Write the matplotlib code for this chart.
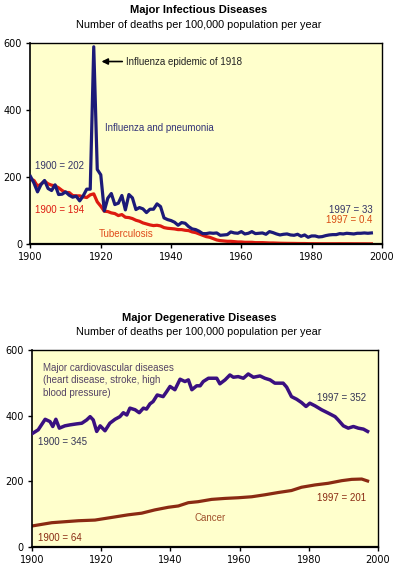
import matplotlib
matplotlib.use("Agg")
import matplotlib.pyplot as plt

plt.rcParams['font.family'] = ['Liberation Sans', 'DejaVu Sans']

# ---------------- data: infectious diseases ----------------
flu_years = list(range(1900, 1998))
flu_vals = [202, 182, 156, 178, 190, 166, 160, 177, 148, 149,
            156, 146, 140, 143, 129, 144, 164, 164, 590, 223,
            207, 99, 137, 151, 118, 122, 145, 102, 148, 138,
            103, 109, 105, 94, 104, 104, 120, 112, 78, 73,
            70, 65, 56, 64, 62, 52, 45, 43, 38, 31,
            31, 33, 32, 33, 26, 27, 28, 36, 33, 32,
            37, 30, 32, 37, 31, 32, 33, 29, 37, 34,
            30, 27, 29, 30, 27, 26, 29, 23, 27, 20,
            24, 24, 21, 22, 25, 27, 28, 28, 31, 30,
            32, 31, 30, 32, 32, 33, 32, 33]

tb_years = list(range(1900, 1998))
tb_vals = [194, 190, 173, 179, 188, 180, 176, 174, 168, 160,
           154, 154, 145, 144, 144, 141, 139, 147, 150, 126,
           113, 98, 97, 93, 91, 85, 88, 80, 79, 76,
           71, 68, 63, 60, 57, 55, 56, 54, 49, 47,
           46, 45, 43, 43, 41, 40, 36, 34, 30, 26,
           22, 20, 16, 12, 10, 9, 8, 8, 7, 6,
           6, 5, 5, 5, 4, 4, 4, 3.5, 3, 3,
           2.6, 2.2, 2, 1.8, 1.7, 1.6, 1.4, 1.3, 1.3, 1.0,
           0.9, 0.8, 0.8, 0.7, 0.7, 0.7, 0.7, 0.7, 0.8, 0.7,
           0.7, 0.7, 0.6, 0.6, 0.5, 0.5, 0.4, 0.4]

# ---------------- data: degenerative diseases ----------------
cvd_years = [1900, 1901.8, 1903.8, 1905.2, 1906, 1906.9, 1907.9, 1909.5, 1911, 1912.9,
             1914.4, 1915.8, 1916.8, 1917.7, 1918.7, 1919.7, 1921.1, 1922.5, 1924, 1925.4,
             1926.4, 1927.4, 1928.3, 1929.8, 1931, 1932.2, 1933.1, 1934.1, 1935, 1936.2,
             1937.9, 1938.9, 1939.9, 1941.3, 1942.8, 1944.2, 1945.2, 1946.2, 1947.6, 1948.6,
             1949.5, 1951, 1953.4, 1954.3, 1955.8, 1957.2, 1958.2, 1959.6, 1961.1, 1962.5,
             1964, 1965.9, 1967.3, 1968.8, 1970.2, 1971.7, 1972.6, 1973.6, 1975, 1976.5,
             1977.9, 1979.2, 1980.3, 1981.8, 1983.7, 1985.6, 1987.6, 1988.5, 1990, 1991.4,
             1992.9, 1994.3, 1995.8, 1997]
cvd_vals = [345, 357, 389, 382, 367, 389, 362, 369, 372, 375,
            377, 387, 397, 387, 352, 369, 354, 377, 389, 397,
            409, 402, 423, 418, 409, 423, 420, 436, 443, 463,
            458, 473, 489, 479, 511, 504, 509, 479, 491, 491,
            504, 514, 514, 497, 509, 524, 517, 519, 514, 527,
            517, 521, 514, 509, 499, 499, 499, 487, 458, 450,
            440, 428, 438, 430, 418, 408, 397, 387, 369, 362,
            367, 362, 359, 352]

cancer_years = [1900, 1905.7, 1909.5, 1913.4, 1918.2, 1923, 1927.8, 1931.7, 1935.5, 1939.4,
                1942.3, 1945.2, 1948, 1951.9, 1955.8, 1959.6, 1963.5, 1967.3, 1971.2, 1975,
                1977.9, 1981.8, 1985.6, 1989.5, 1992.4, 1995.3, 1997]
cancer_vals = [64, 74, 77, 80, 82, 90, 98, 103, 113, 121,
               125, 135, 138, 145, 148, 150, 153, 159, 166, 172,
               182, 189, 194, 202, 206, 207, 201]

x_ticks = [1900, 1920, 1940, 1960, 1980, 2000]
y_ticks = [0, 200, 400, 600]

BG = '#FFFFCC'
FLU_C = '#1C1A78'
TB_C = '#DD1A10'
CVD_C = '#3A1080'
CAN_C = '#8A2A12'

fig = plt.figure(figsize=(3.98, 5.75), dpi=100)


def style_axes(ax):
    ax.set_facecolor(BG)
    ax.set_xlim(1900, 2000)
    ax.set_ylim(0, 600)
    ax.set_xticks(x_ticks)
    ax.set_yticks(y_ticks)
    ax.tick_params(axis='both', labelsize=7, length=3, width=1, direction='out',
                   colors='black', pad=3)
    for lab in ax.get_xticklabels() + ax.get_yticklabels():
        lab.set_family('DejaVu Sans')
    for s in ax.spines.values():
        s.set_linewidth(1.0)
    ax.spines['bottom'].set_linewidth(1.6)
    ax.spines['left'].set_linewidth(1.2)


# ---------------- top chart ----------------
ax1 = fig.add_axes([0.0766, 0.5757, 0.883, 0.3487])
style_axes(ax1)
ax1.plot(tb_years, tb_vals, color=TB_C, lw=2.3, zorder=2)
ax1.plot(flu_years, flu_vals, color=FLU_C, lw=2.3, zorder=3)

fig.text(0.5, 0.982, 'Major Infectious Diseases', ha='center', va='center',
         fontsize=8, fontweight='bold')
fig.text(0.5, 0.957, 'Number of deaths per 100,000 population per year', ha='center',
         va='center', fontsize=7.8)

ax1.annotate('Influenza epidemic of 1918', xy=(1920.2, 546), xytext=(1927.3, 546),
             fontsize=7, va='center', ha='left', color='#222222',
             arrowprops=dict(arrowstyle='-|>', color='black', lw=1.2,
                             mutation_scale=9, shrinkA=1, shrinkB=0))
ax1.text(1921.2, 348, 'Influenza and pneumonia', fontsize=7, color='#333377',
         ha='left', va='center')
ax1.text(1901.3, 234, '1900 = 202', fontsize=7, color='#333366', ha='left', va='center')
ax1.text(1901.3, 102, '1900 = 194', fontsize=7, color=TB_C, ha='left', va='center')
ax1.text(1919.4, 31, 'Tuberculosis', fontsize=7, color='#E04A1A', ha='left', va='center')
ax1.text(1997.4, 101, '1997 = 33', fontsize=7, color='#333366', ha='right', va='center')
ax1.text(1997.4, 71, '1997 = 0.4', fontsize=7, color='#D84A10', ha='right', va='center')

# ---------------- bottom chart ----------------
ax2 = fig.add_axes([0.0804, 0.0487, 0.8693, 0.3426])
style_axes(ax2)
ax2.plot(cancer_years, cancer_vals, color=CAN_C, lw=2.3, zorder=2)
ax2.plot(cvd_years, cvd_vals, color=CVD_C, lw=2.5, zorder=3)

fig.text(0.5, 0.447, 'Major Degenerative Diseases', ha='center', va='center',
         fontsize=8, fontweight='bold')
fig.text(0.5, 0.422, 'Number of deaths per 100,000 population per year', ha='center',
         va='center', fontsize=7.8)

ax2.text(1903.2, 561, 'Major cardiovascular diseases\n(heart disease, stroke, high\nblood pressure)',
         fontsize=7, color='#554466', ha='left', va='top', linespacing=1.3)
ax2.text(1996.7, 455, '1997 = 352', fontsize=7, color='#333355', ha='right', va='center')
ax2.text(1901.7, 320, '1900 = 345', fontsize=7, color='#333355', ha='left', va='center')
ax2.text(1996.7, 148, '1997 = 201', fontsize=7, color=CAN_C, ha='right', va='center')
ax2.text(1951.5, 88, 'Cancer', fontsize=7, color='#A0522D', ha='center', va='center')
ax2.text(1901.7, 27, '1900 = 64', fontsize=7, color=CAN_C, ha='left', va='center')

fig.savefig('out.png', dpi=100, facecolor='white')
